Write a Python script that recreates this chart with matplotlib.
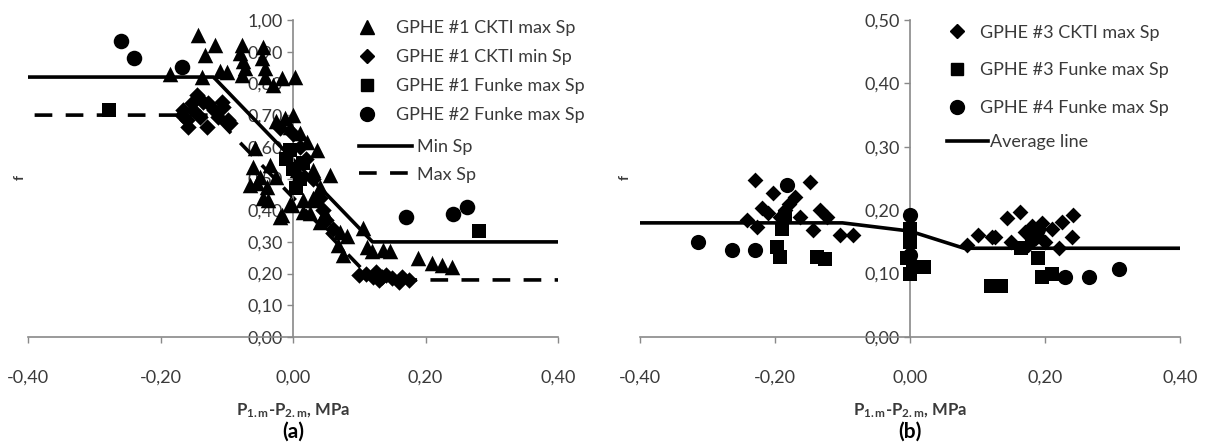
import matplotlib
matplotlib.use("Agg")
import matplotlib.pyplot as plt
from matplotlib.ticker import FuncFormatter
from matplotlib.lines import Line2D

plt.rcParams['font.family'] = ['Lato', 'DejaVu Sans']
plt.rcParams['mathtext.fontset'] = 'custom'
plt.rcParams['mathtext.rm'] = 'Lato:bold'
plt.rcParams['mathtext.it'] = 'Lato:bold'
plt.rcParams['mathtext.bf'] = 'Lato:bold'

# ---- (a) GPHE #1 / #2 ----
ckti_max_x = [-0.186, -0.143, -0.133, -0.118, -0.137, -0.110, -0.100,
              -0.077, -0.080, -0.072, -0.077, -0.075,
              -0.045, -0.047, -0.042, -0.042, -0.030, -0.017, 0.003,
              -0.012, -0.005, 0.010, 0.021, 0.036, -0.025, 0.000,
              -0.057, -0.060, -0.035, -0.050, -0.025, 0.006, 0.030, 0.056,
              -0.038, -0.020, -0.005, 0.015, 0.030, 0.041, -0.040, 0.026, 0.045,
              -0.054, -0.045, -0.065,
              -0.017, -0.002, 0.015, 0.033, 0.048, 0.041, 0.071, 0.081, 0.068,
              0.076, 0.106, 0.112, 0.119, 0.136, 0.147, 0.189, 0.210, 0.225, 0.240]
ckti_max_f = [0.83, 0.953, 0.89, 0.92, 0.82, 0.84, 0.835,
              0.92, 0.895, 0.85, 0.826, 0.87,
              0.915, 0.88, 0.85, 0.82, 0.795, 0.817, 0.82,
              0.69, 0.663, 0.643, 0.616, 0.59, 0.68, 0.70,
              0.595, 0.537, 0.543, 0.505, 0.505, 0.527, 0.527, 0.51,
              0.432, 0.38, 0.42, 0.432, 0.438, 0.473, 0.473, 0.39, 0.378,
              0.485, 0.44, 0.48,
              0.385, 0.416, 0.394, 0.432, 0.39, 0.363, 0.33, 0.32, 0.29,
              0.26, 0.343, 0.285, 0.27, 0.275, 0.27, 0.248, 0.233, 0.227, 0.222]

ckti_min_x = [-0.145, -0.136, -0.153, -0.166, -0.168, -0.158, -0.151, -0.140, -0.130,
              -0.120, -0.128, -0.107, -0.106, -0.113, -0.098, -0.095, -0.160,
              -0.020, 0.000, 0.010, 0.020, 0.030, 0.040, 0.045, 0.050, 0.060,
              0.100, 0.110, 0.120, 0.125, 0.130, 0.140, 0.150, 0.160, 0.165, 0.175, 0.135]
ckti_min_f = [0.763, 0.742, 0.738, 0.716, 0.70, 0.663, 0.716, 0.695, 0.663,
              0.716, 0.738, 0.742, 0.727, 0.695, 0.685, 0.674, 0.685,
              0.66, 0.64, 0.60, 0.56, 0.50, 0.44, 0.40, 0.37, 0.34,
              0.195, 0.20, 0.19, 0.205, 0.18, 0.195, 0.185, 0.175, 0.19, 0.18, 0.19]

funke1_x = [-0.278, -0.010, 0.000, 0.010, -0.005, 0.015, 0.005, 0.280]
funke1_f = [0.716, 0.56, 0.53, 0.50, 0.59, 0.55, 0.47, 0.335]

funke2_x = [-0.260, -0.240, -0.168, 0.171, 0.242, 0.263]
funke2_f = [0.934, 0.88, 0.852, 0.38, 0.387, 0.41]

min_sp_x = [-0.40, -0.12, 0.12, 0.40]
min_sp_f = [0.82, 0.82, 0.30, 0.30]
max_sp_x = [-0.39, -0.12, 0.12, 0.40]
max_sp_f = [0.70, 0.70, 0.18, 0.18]

# ---- (b) GPHE #3 / #4 ----
g3_ckti_x = [-0.242, -0.230, -0.227, -0.219, -0.203, -0.193, -0.180, -0.170, -0.163,
             -0.148, -0.144, -0.133, -0.123, -0.104, -0.084, -0.210, -0.185,
             0.084, 0.100, 0.121, 0.126, 0.143, 0.163, 0.150, 0.170, 0.180, 0.190,
             0.200, 0.210, 0.225, 0.241, 0.240, 0.220, 0.175, 0.195]
g3_ckti_f = [0.184, 0.247, 0.173, 0.203, 0.227, 0.189, 0.21, 0.221, 0.189,
             0.244, 0.168, 0.20, 0.189, 0.161, 0.161, 0.195, 0.20,
             0.145, 0.161, 0.158, 0.157, 0.187, 0.197, 0.15, 0.165, 0.175, 0.16,
             0.15, 0.17, 0.181, 0.192, 0.158, 0.14, 0.145, 0.18]

g3_funke_x = [-0.197, -0.193, -0.190, -0.185, -0.138, -0.126, 0.000, 0.000, -0.005,
              0.005, 0.020, 0.000, 0.120, 0.135, 0.165, 0.190, 0.195, 0.210, 0.185]
g3_funke_f = [0.142, 0.126, 0.17, 0.19, 0.126, 0.123, 0.17, 0.15, 0.125,
              0.11, 0.11, 0.10, 0.08, 0.081, 0.14, 0.125, 0.095, 0.10, 0.165]

g4_funke_x = [-0.314, -0.264, -0.230, -0.182, 0.000, 0.000, 0.230, 0.265, 0.310, 0.190, 0.180]
g4_funke_f = [0.15, 0.137, 0.137, 0.239, 0.193, 0.13, 0.095, 0.095, 0.108, 0.17, 0.155]

avg_x = [-0.40, -0.10, 0.00, 0.08, 0.40]
avg_f = [0.18, 0.18, 0.167, 0.14, 0.14]

W, H = 1207, 443
fig = plt.figure(figsize=(W / 100, H / 100), dpi=100)
axa = fig.add_axes([28 / W, (H - 337) / H, 530 / W, 317 / H])
axb = fig.add_axes([640 / W, (H - 337) / H, 540 / W, 317 / H])

gray = '#898989'
txt = '#3a3a3a'
comma = FuncFormatter(lambda v, p: f"{v:.2f}".replace('.', ','))
dash = (0, (4.9, 3.7))


def style(ax, ymax):
    ax.set_xlim(-0.4, 0.4)
    ax.set_ylim(0, ymax)
    ax.set_xticks([-0.4, -0.2, 0.0, 0.2, 0.4])
    ax.set_yticks([i / 10 for i in range(int(round(ymax * 10)) + 1)])
    ax.xaxis.set_major_formatter(comma)
    ax.yaxis.set_major_formatter(comma)
    ax.spines['left'].set_position(('data', 0))
    ax.spines['top'].set_visible(False)
    ax.spines['right'].set_visible(False)
    for s in ('left', 'bottom'):
        ax.spines[s].set_color(gray)
        ax.spines[s].set_linewidth(1.2)
    ax.tick_params(axis='both', direction='out', length=4.5, width=1.0,
                   color=gray, labelcolor=txt, labelsize=13)
    ax.tick_params(axis='x', pad=19)
    ax.tick_params(axis='y', pad=3)
    ax.patch.set_visible(False)


style(axa, 1.0)
style(axb, 0.5)

# panel (a)
axa.plot(min_sp_x, min_sp_f, color='black', lw=2.6, zorder=2)
axa.plot(max_sp_x, max_sp_f, color='black', lw=2.6, ls=dash, zorder=2)
axa.scatter(ckti_max_x, ckti_max_f, marker='^', s=125, color='black', lw=0, zorder=3)
axa.scatter(ckti_min_x, ckti_min_f, marker='D', s=70, color='black', lw=0, zorder=3)
axa.scatter(funke1_x, funke1_f, marker='s', s=105, color='black', lw=0, zorder=3)
axa.scatter(funke2_x, funke2_f, marker='o', s=125, color='black', lw=0, zorder=3)

mk = dict(color='black', ls='none')
leg1 = axa.legend(
    [Line2D([], [], marker='^', ms=10, **mk), Line2D([], [], marker='D', ms=7, **mk),
     Line2D([], [], marker='s', ms=9, **mk), Line2D([], [], marker='o', ms=10, **mk)],
    ['GPHE #1 CKTI max Sp', 'GPHE #1 CKTI min Sp', 'GPHE #1 Funke max Sp', 'GPHE #2 Funke max Sp'],
    loc='upper left', bbox_to_anchor=(0.62, 1.0), frameon=False, fontsize=13,
    handlelength=1.2, handletextpad=1.0, labelspacing=0.72, borderpad=0, borderaxespad=0,
    labelcolor=txt)
axa.add_artist(leg1)
axa.legend([Line2D([], [], color='black', lw=2.6), Line2D([], [], color='black', lw=2.6, ls=dash)],
           ['Min Sp', 'Max Sp'], loc='upper left', bbox_to_anchor=(0.625, 0.625),
           frameon=False, fontsize=13, handlelength=2.9, handletextpad=0.3,
           labelspacing=0.65, borderpad=0, borderaxespad=0, labelcolor=txt)

# panel (b)
axb.plot(avg_x, avg_f, color='black', lw=2.6, zorder=2)
axb.scatter(g3_ckti_x, g3_ckti_f, marker='D', s=65, color='black', lw=0, zorder=3)
axb.scatter(g3_funke_x, g3_funke_f, marker='s', s=95, color='black', lw=0, zorder=3)
axb.scatter(g4_funke_x, g4_funke_f, marker='o', s=120, color='black', lw=0, zorder=3)

leg2 = axb.legend(
    [Line2D([], [], marker='D', ms=7, **mk), Line2D([], [], marker='s', ms=9, **mk),
     Line2D([], [], marker='o', ms=10, **mk)],
    ['GPHE #3 CKTI max Sp', 'GPHE #3 Funke max Sp', 'GPHE #4 Funke max Sp'],
    loc='upper left', bbox_to_anchor=(0.568, 0.985), frameon=False, fontsize=13,
    handlelength=1.1, handletextpad=0.75, labelspacing=1.2, borderpad=0, borderaxespad=0,
    labelcolor=txt)
axb.add_artist(leg2)
axb.legend([Line2D([], [], color='black', lw=2.6)], ['Average line'],
           loc='upper left', bbox_to_anchor=(0.568, 0.64), frameon=False, fontsize=13,
           handlelength=2.3, handletextpad=0.1, borderpad=0, borderaxespad=0, labelcolor=txt)

xlab = r'P$_{\mathrm{1.m}}$-P$_{\mathrm{2.m}}$, MPa'
for ax, cx, tag in ((axa, 293, '(a)'), (axb, 910, '(b)')):
    fig.text(cx / W, 1 - 411 / H, xlab, ha='center', va='center', fontsize=12,
             fontweight='bold', color=txt)
    fig.text(cx / W, 1 - 432 / H, tag, ha='center', va='center', fontsize=15,
             fontweight='bold', color='black')
fig.text(20 / W, 1 - 178 / H, 'f', rotation=90, ha='center', va='center',
         fontsize=10, fontweight='bold', color=txt)
fig.text(625 / W, 1 - 178 / H, 'f', rotation=90, ha='center', va='center',
         fontsize=10, fontweight='bold', color=txt)

fig.savefig('out.png', dpi=100, facecolor='white')
